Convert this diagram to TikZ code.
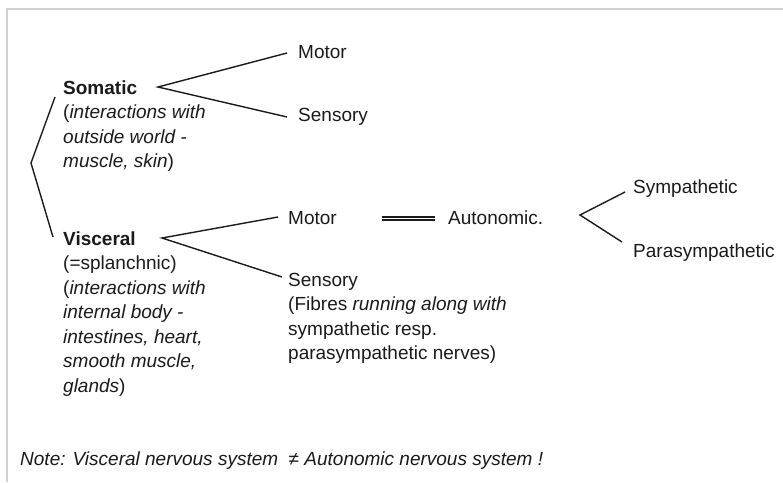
\documentclass[tikz,border=0pt]{standalone}
\usepackage{fontspec}
\setmainfont{Liberation Sans}
\definecolor{framegray}{HTML}{D2D2D2}
\definecolor{ink}{HTML}{1A1A1A}
\newcommand{\lines}[1]{\begin{tabular}[t]{@{}l@{}}#1\end{tabular}}
\begin{document}
\begin{tikzpicture}[x=1pt,y=-1pt,
  font=\fontsize{19}{24.5}\selectfont,
  lbl/.style={anchor=base west, inner sep=0pt, text=ink},
  conn/.style={line width=1.4pt, draw=ink},
  eqline/.style={double=white, draw=ink, line width=1.4pt, double distance=1.8pt},
  frame/.style={line width=2pt, draw=framegray}]
\useasboundingbox (0,0) rectangle (783,482);
\draw[frame] (7,482) -- (7,9) -- (783,9);

\node[lbl] (som) at (63,94) {\lines{\textbf{Somatic}\\(\textit{interactions with}\\\textit{outside world -}\\\textit{muscle, skin})}};
\node[lbl] (smot) at (298,58) {Motor};
\node[lbl] (ssen) at (298,121) {Sensory};
\node[lbl] (vis) at (63,245) {\lines{\textbf{Visceral}\\(=splanchnic)\\(\textit{interactions with}\\\textit{internal body -}\\\textit{intestines, heart,}\\\textit{smooth muscle,}\\\textit{glands})}};
\node[lbl] (vmot) at (288,224) {Motor};
\node[lbl] (vsen) at (288,286) {\lines{Sensory\\(Fibres \textit{running along with}\\sympathetic resp.\\parasympathetic nerves)}};
\node[lbl] (aut) at (448,224) {Autonomic.};
\node[lbl] (sym) at (633,193) {Sympathetic};
\node[lbl] (para) at (633,257) {Parasympathetic};
\node[lbl] (note) at (20,465) {\textit{Note: Visceral nervous system\ \ ≠ Autonomic nervous system !}};

% vertices and ends
\coordinate (root) at (31,163);
\coordinate (rootA) at (55,97);
\coordinate (rootB) at (53,237);
\coordinate (sv) at (158,87);
\coordinate (svA) at (287,53);
\coordinate (svB) at (287,117);
\coordinate (vv) at (162,238);
\coordinate (vvA) at (278,217);
\coordinate (vvB) at (282,277);
\coordinate (av) at (580,215);
\coordinate (avA) at (625,192);
\coordinate (avB) at (622,242);
\coordinate (e1) at (382,218.5);
\coordinate (e2) at (435,218.5);

\draw[conn] (rootA) -- (root) -- (rootB);
\draw[conn] (svA) -- (sv) -- (svB);
\draw[conn] (vvA) -- (vv) -- (vvB);
\draw[conn] (avA) -- (av) -- (avB);
\draw[eqline] (e1) -- (e2);
\end{tikzpicture}
\end{document}
